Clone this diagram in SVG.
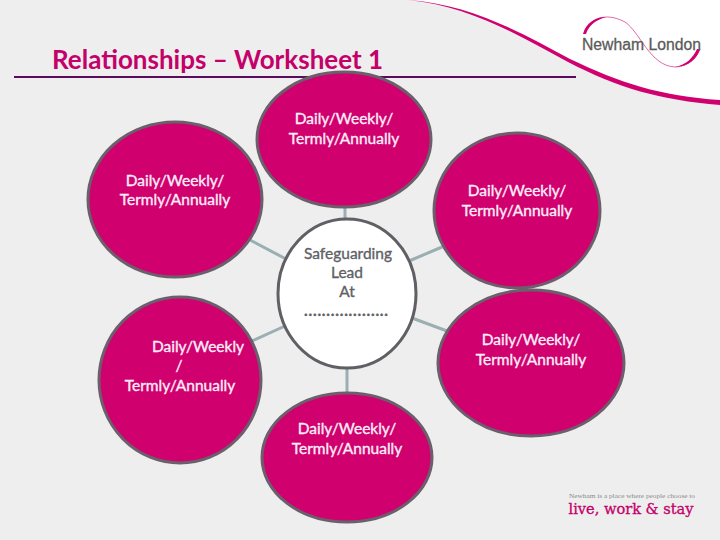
<svg xmlns="http://www.w3.org/2000/svg" width="720" height="540" viewBox="0 0 720 540">
<style>
.n{fill:#d0006f;stroke:#6b5f6b;stroke-width:3}
.c{stroke:#9aafb2;stroke-width:3;fill:none}
text{font-family:Lato,"Liberation Sans",sans-serif;font-size:15.500px;text-anchor:middle}
.w{fill:#fdeef8;stroke:#fdeef8;stroke-width:.35}
.d{fill:#5f6166;stroke:#5f6166;stroke-width:.35}
</style>
<rect width="720" height="540" fill="#eeeeee"/>
<path d="M408 0C480 8 525 38 570 60C620 85 660 96 720 101V0Z" fill="#fff"/>
<path d="M408 0C470 4 522 33 570 59C620 83 660 96 720 100V105C660 100 618 88 568 62C520 36 470 6 408 0Z" fill="#d0006f"/>
<path d="M584 34C592 14 610 14 625 22C640 32 650 66 675 67C690 67 698 55 700 49" fill="none" stroke="#d0006f" stroke-width=".6"/>
<path d="M583 34C586 23 595 17 606 17C596 20 589 25 586 34ZM700 49C698 58 688 67 675 67C686 65 693 58 697 49Z" fill="#d0006f"/>
<text x="641.500" y="50" textLength="119" lengthAdjust="spacingAndGlyphs" style="font-family:'Liberation Sans',sans-serif;font-size:16px;fill:#5a5a5a;stroke:#5a5a5a;stroke-width:.3">Newham London</text>
<text x="217.500" y="69" style="font-size:26px;font-weight:700;fill:#c4006a">Relationships – Worksheet 1</text>
<line x1="14" y1="77" x2="576" y2="77" stroke="#5c0a5c" stroke-width="2"/>
<g id="connectors">
<line class="c" x1="345" y1="205" x2="345" y2="220"/>
<line class="c" x1="250" y1="240" x2="286" y2="259"/>
<line class="c" x1="442" y1="247" x2="409" y2="261"/>
<line class="c" x1="447" y1="331" x2="412" y2="318"/>
<line class="c" x1="252" y1="341" x2="285" y2="326"/>
<line class="c" x1="347" y1="367" x2="347" y2="394"/>
</g>
<g id="node-top"><ellipse class="n" cx="344" cy="139.500" rx="87" ry="67.500"/><text class="w" x="344" y="124">Daily/Weekly/</text><text class="w" x="344" y="144">Termly/Annually</text></g>
<g id="node-upper-left"><ellipse class="n" cx="175" cy="199.500" rx="87" ry="77.500"/><text class="w" x="175" y="186">Daily/Weekly/</text><text class="w" x="175" y="205">Termly/Annually</text></g>
<g id="node-upper-right"><ellipse class="n" cx="517" cy="210.500" rx="83" ry="77.500"/><text class="w" x="517" y="196">Daily/Weekly/</text><text class="w" x="517" y="216">Termly/Annually</text></g>
<g id="node-lower-right"><ellipse class="n" cx="531" cy="363" rx="93" ry="73"/><text class="w" x="531" y="345">Daily/Weekly/</text><text class="w" x="531" y="365">Termly/Annually</text></g>
<g id="node-lower-left"><ellipse class="n" cx="180" cy="380" rx="81" ry="83"/><text class="w" x="198" y="352">Daily/Weekly</text><text class="w" x="179" y="371">/</text><text class="w" x="180" y="391">Termly/Annually</text></g>
<g id="node-bottom"><ellipse class="n" cx="347" cy="457.500" rx="85" ry="64.500"/><text class="w" x="347" y="434">Daily/Weekly/</text><text class="w" x="347" y="454">Termly/Annually</text></g>
<g id="node-center"><ellipse cx="347" cy="293.500" rx="69" ry="74.500" fill="#fff" stroke="#5f5f64" stroke-width="3"/><text class="d" x="348" y="259">Safeguarding</text><text class="d" x="347" y="278">Lead</text><text class="d" x="347" y="297">At</text><text class="d" x="346" y="316" textLength="84" style="font-weight:700">...................</text></g>
<text x="632" y="498" textLength="126" lengthAdjust="spacingAndGlyphs" style="font-family:'Liberation Serif',serif;font-size:6.500px;fill:#8a8a8a">Newham is a place where people choose to</text>
<text x="631" y="514" textLength="125" lengthAdjust="spacingAndGlyphs" style="font-family:'DejaVu Serif',serif;font-size:14px;fill:#c4006a;stroke:#c4006a;stroke-width:.3">live, work &amp; stay</text>
</svg>
